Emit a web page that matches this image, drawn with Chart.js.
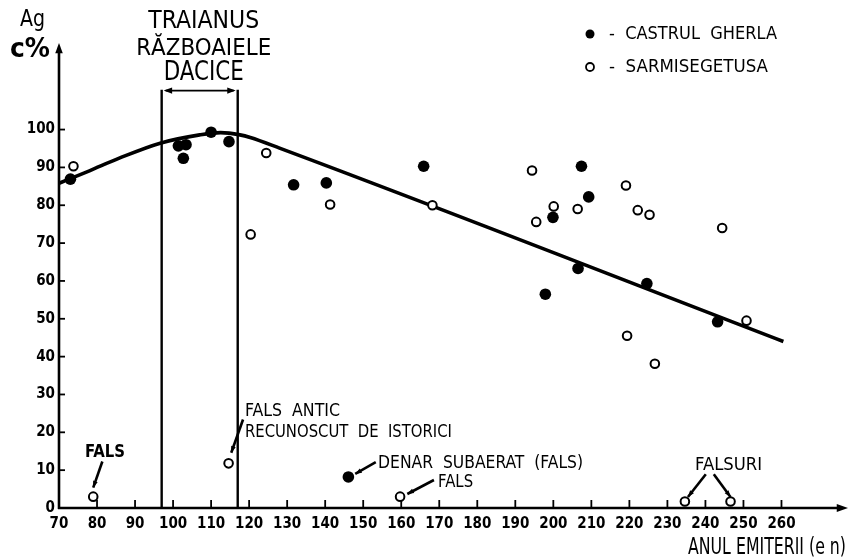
<!DOCTYPE html>
<html>
<head>
<meta charset="utf-8">
<script src="https://cdn.jsdelivr.net/npm/chart.js@4/dist/chart.umd.min.js"></script>
<style>
  html, body { margin: 0; padding: 0; background: #fff; }
</style>
</head>
<body>
<canvas id="chart" width="849" height="559"></canvas>
<script>
// Continutul de argint (Ag %) al denarilor dupa anul emiterii
const YEAR_TICKS = [70, 80, 90, 100, 110, 120, 130, 140, 150, 160, 170, 180, 190, 200, 210, 220, 230, 240, 250, 260];
const AG_TICKS = [0, 10, 20, 30, 40, 50, 60, 70, 80, 90, 100];

// Castrul Gherla (puncte pline)
const gherlaYears = [73, 101.4, 102.7, 103.4, 110, 114.7, 131.7, 140.3, 146.1, 165.9, 197.9, 199.9, 206.5, 207.4, 209.3, 224.6, 243.2];
const gherlaAg = [86.9, 95.7, 92.4, 96.0, 99.3, 96.8, 85.4, 85.9, 8.2, 90.3, 56.5, 76.8, 63.3, 90.3, 82.2, 59.3, 49.2];

// Sarmisegetusa (cercuri goale)
const sarmiYears = [73.8, 79, 114.6, 120.4, 124.5, 141.3, 159.7, 168.2, 194.4, 195.5, 200.1, 206.4, 219.1, 219.4, 222.2, 225.3, 226.7, 234.6, 244.4, 246.6, 250.8];
const sarmiAg = [90.3, 3.0, 11.8, 72.3, 93.8, 80.2, 3.0, 80.0, 89.2, 75.6, 79.7, 79.0, 85.2, 45.5, 78.7, 77.5, 38.1, 1.7, 74.0, 1.7, 49.5];

// curba de tendinta
const trendYears = [70, 78, 86, 96.6, 107, 112.5, 117.6, 120.3, 128, 260.5];
const trendAg = [85.8, 89.1, 92.5, 96.4, 98.6, 99.2, 98.6, 97.9, 95.1, 44];

// razboaiele dacice (domnia lui Traian)
const REIGN = [97, 117];

const FONT = "'DejaVu Sans Condensed', 'Liberation Sans Narrow', 'DejaVu Sans', sans-serif";

function toXY(xs, ys) {
  return xs.map((v, i) => ({ x: v, y: ys[i] }));
}

// scrie textul comprimat pe orizontala la latimea data
function fitText(ctx, text, x, y, w, align) {
  const m = ctx.measureText(text).width;
  ctx.save();
  ctx.translate(x, y);
  ctx.scale(w / m, 1);
  ctx.textAlign = align || 'left';
  ctx.fillText(text, 0, 0);
  ctx.restore();
}

function arrowHead(ctx, x1, y1, x2, y2, size) {
  const a = Math.atan2(y2 - y1, x2 - x1);
  ctx.beginPath();
  ctx.moveTo(x2, y2);
  ctx.lineTo(x2 - size * Math.cos(a - 0.35), y2 - size * Math.sin(a - 0.35));
  ctx.lineTo(x2 - size * Math.cos(a + 0.35), y2 - size * Math.sin(a + 0.35));
  ctx.closePath();
  ctx.fill();
}

function pointer(ctx, P, from, to) {
  const [x1, y1] = P(from[0], from[1]);
  const [x2, y2] = P(to[0], to[1]);
  ctx.lineWidth = 2.6;
  ctx.beginPath();
  ctx.moveTo(x1, y1);
  ctx.lineTo(x2, y2);
  ctx.stroke();
  arrowHead(ctx, x1, y1, x2, y2, 7);
}

// axe cu sageti, linii verticale, texte si legenda
const decorPlugin = {
  id: 'decor',
  beforeDatasetsDraw(chart) {
    const ctx = chart.ctx;
    const xs = chart.scales.x, ys = chart.scales.y;
    ctx.save();
    ctx.strokeStyle = '#000';
    ctx.lineWidth = 2.4;
    REIGN.forEach((yr) => {
      const px = xs.getPixelForValue(yr);
      ctx.beginPath();
      ctx.moveTo(px, ys.getPixelForValue(0));
      ctx.lineTo(px, ys.getPixelForValue(110.5));
      ctx.stroke();
    });
    ctx.restore();
  },
  afterDraw(chart) {
    const ctx = chart.ctx;
    const xs = chart.scales.x, ys = chart.scales.y;
    const P = (a, b) => [xs.getPixelForValue(a), ys.getPixelForValue(b)];
    ctx.save();
    ctx.strokeStyle = '#000';
    ctx.fillStyle = '#000';
    ctx.textBaseline = 'middle';

    // axa Y
    const [ox, oy] = P(70, 0);
    const yTop = 43;
    ctx.lineWidth = 2.6;
    ctx.beginPath();
    ctx.moveTo(ox, oy + 1);
    ctx.lineTo(ox, yTop + 6);
    ctx.stroke();
    arrowHead(ctx, ox, yTop + 12, ox, yTop, 11);

    // axa X
    const xEnd = chart.width - 1;
    ctx.beginPath();
    ctx.moveTo(ox - 1, oy);
    ctx.lineTo(xEnd - 8, oy);
    ctx.stroke();
    arrowHead(ctx, xEnd - 14, oy, xEnd, oy, 12);

    // gradatii
    ctx.lineWidth = 1.8;
    YEAR_TICKS.slice(1).forEach((v) => {
      const px = xs.getPixelForValue(v);
      ctx.beginPath();
      ctx.moveTo(px, oy);
      ctx.lineTo(px, oy - 8);
      ctx.stroke();
    });
    AG_TICKS.slice(1).forEach((v) => {
      const py = ys.getPixelForValue(v);
      ctx.beginPath();
      ctx.moveTo(ox, py);
      ctx.lineTo(ox + 6, py);
      ctx.stroke();
    });

    // paranteza razboaielor dacice
    const [bx1, by] = P(REIGN[0], 110.3);
    const [bx2] = P(REIGN[1], 110.3);
    ctx.lineWidth = 1.6;
    ctx.beginPath();
    ctx.moveTo(bx1 + 4, by);
    ctx.lineTo(bx2 - 4, by);
    ctx.stroke();
    arrowHead(ctx, bx1 + 16, by, bx1 + 2, by, 9);
    arrowHead(ctx, bx2 - 16, by, bx2 - 2, by, 9);

    // titlu
    const tx = (bx1 + bx2) / 2 + 4;
    ctx.font = '25px ' + FONT;
    fitText(ctx, 'TRAIANUS', tx, 21, 111, 'center');
    ctx.font = '23px ' + FONT;
    fitText(ctx, 'RĂZBOAIELE', tx, 49, 135, 'center');
    ctx.font = '26px ' + FONT;
    fitText(ctx, 'DACICE', tx, 73, 80, 'center');

    // etichete axe
    ctx.font = '23px ' + FONT;
    fitText(ctx, 'Ag', 20, 20, 25, 'left');
    ctx.font = 'bold 27px ' + FONT;
    fitText(ctx, 'c%', 10, 50, 40, 'left');
    ctx.font = '23px ' + FONT;
    fitText(ctx, 'ANUL EMITERII (e n)', 688, 548, 158, 'left');

    // legenda
    ctx.font = '18px ' + FONT;
    ctx.beginPath();
    ctx.arc(590, 34, 4.5, 0, Math.PI * 2);
    ctx.fill();
    fitText(ctx, '-  CASTRUL  GHERLA', 609, 34, 168, 'left');
    ctx.lineWidth = 1.8;
    ctx.beginPath();
    ctx.arc(590, 67, 4, 0, Math.PI * 2);
    ctx.stroke();
    fitText(ctx, '-  SARMISEGETUSA', 609, 67, 159, 'left');

    // adnotari
    ctx.font = 'bold 18px ' + FONT;
    let p = P(82.1, 14.7);
    fitText(ctx, 'FALS', p[0], p[1], 40, 'center');
    pointer(ctx, P, [81.4, 12.3], [79.0, 5.4]);

    ctx.font = '18px ' + FONT;
    p = P(118.9, 25.5);
    fitText(ctx, 'FALS  ANTIC', p[0], p[1], 95, 'left');
    p = P(118.9, 19.9);
    fitText(ctx, 'RECUNOSCUT  DE  ISTORICI', p[0], p[1], 207, 'left');
    pointer(ctx, P, [118.4, 23.4], [115.3, 14.6]);

    p = P(153.9, 11.8);
    fitText(ctx, 'DENAR  SUBAERAT  (FALS)', p[0], p[1], 205, 'left');
    pointer(ctx, P, [153.3, 12.1], [147.9, 9.0]);

    p = P(169.7, 6.8);
    fitText(ctx, 'FALS', p[0], p[1], 35, 'left');
    pointer(ctx, P, [168.6, 7.4], [161.6, 3.7]);

    p = P(246.1, 11.4);
    fitText(ctx, 'FALSURI', p[0], p[1], 67, 'center');
    pointer(ctx, P, [240.1, 8.9], [235.4, 2.9]);
    pointer(ctx, P, [242.2, 8.9], [246.6, 2.9]);

    ctx.restore();
  }
};

Chart.defaults.color = '#000';
Chart.defaults.font.family = FONT;

new Chart(document.getElementById('chart'), {
  type: 'scatter',
  data: {
    datasets: [
      {
        type: 'line',
        label: 'tendinta',
        data: toXY(trendYears, trendAg),
        borderColor: '#000',
        borderWidth: 3.6,
        pointRadius: 0,
        cubicInterpolationMode: 'monotone',
        fill: false,
        order: 3,
      },
      {
        label: 'CASTRUL GHERLA',
        data: toXY(gherlaYears, gherlaAg),
        backgroundColor: '#000',
        borderColor: '#000',
        pointRadius: 5.8,
        pointBorderWidth: 0,
        order: 1,
      },
      {
        label: 'SARMISEGETUSA',
        data: toXY(sarmiYears, sarmiAg),
        backgroundColor: '#fff',
        borderColor: '#000',
        pointRadius: 4.3,
        pointBorderWidth: 2,
        order: 2,
      },
    ],
  },
  options: {
    responsive: false,
    animation: false,
    layout: { padding: 0 },
    plugins: {
      legend: { display: false },
      tooltip: { enabled: false },
    },
    scales: {
      x: {
        type: 'linear',
        min: 70,
        max: 276.1,
        afterBuildTicks: (scale) => { scale.ticks = YEAR_TICKS.map((v) => ({ value: v })); },
        afterFit: (scale) => { scale.height = 51; },
        grid: { display: false, drawTicks: false },
        border: { display: false },
        ticks: {
          autoSkip: false,
          maxRotation: 0,
          padding: 7,
          color: '#000',
          font: { size: 15, weight: 'bold' },
        },
      },
      y: {
        min: 0,
        max: 130.8,
        afterBuildTicks: (scale) => { scale.ticks = AG_TICKS.map((v) => ({ value: v })); },
        afterFit: (scale) => { scale.width = 59; },
        grid: { display: false, drawTicks: false },
        border: { display: false },
        ticks: {
          padding: 4,
          color: '#000',
          font: { size: 15, weight: 'bold' },
        },
      },
    },
  },
  plugins: [decorPlugin],
});
</script>
</body>
</html>
